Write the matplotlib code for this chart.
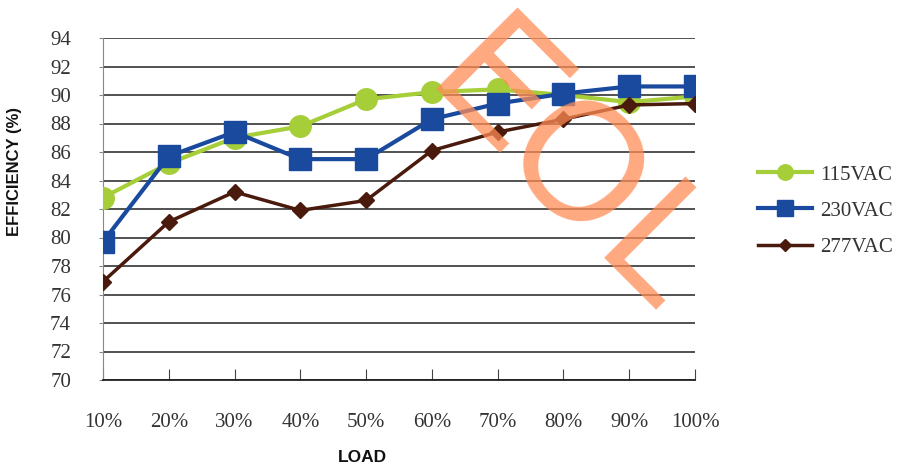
import matplotlib
matplotlib.use("Agg")
import matplotlib.pyplot as plt

loads = ["10%", "20%", "30%", "40%", "50%", "60%", "70%", "80%", "90%", "100%"]
eff_115 = [82.8, 85.2, 87.0, 87.8, 89.7, 90.2, 90.4, 90.0, 89.5, 89.9]
eff_230 = [79.7, 85.7, 87.4, 85.5, 85.5, 88.3, 89.4, 90.1, 90.6, 90.6]
eff_277 = [76.9, 81.1, 83.2, 81.9, 82.6, 86.1, 87.4, 88.3, 89.3, 89.4]
series_names = ["115VAC", "230VAC", "277VAC"]
y_ticks = list(range(70, 95, 2))
watermark = ["E", "O", "L"]

W, H = 904, 470
fig = plt.figure(figsize=(W / 100, H / 100), dpi=100)
ax = fig.add_axes([103 / W, 1 - 380 / H, (695 - 103) / W, (380 - 38) / H])

x = list(range(len(loads)))
ax.plot(x, eff_115, color="#A6CE39", lw=3, marker="o", ms=15.5, label=series_names[0], zorder=3)
ax.plot(x, eff_230, color="#1A4A9E", lw=3, marker="s", ms=16, label=series_names[1], zorder=4)
ax.plot(x, eff_277, color="#4A1A0C", lw=2.5, marker="D", ms=8, label=series_names[2], zorder=5)

ax.set_xlim(0, len(loads) - 1)
ax.set_ylim(70, 94)
ax.set_yticks(y_ticks)
ax.set_xticks(x)
ax.set_xticklabels(loads)
ax.grid(axis="y", color="#222222", lw=1.1, zorder=0)
ax.set_axisbelow(True)
for s in ["top", "right"]:
    ax.spines[s].set_visible(False)
ax.spines["left"].set_color("#888888")
ax.spines["bottom"].set_color("#222222")
ax.spines["bottom"].set_linewidth(1.3)

serif = ["Liberation Serif", "DejaVu Serif"]
ax.tick_params(axis="y", direction="out", length=3, color="#888888", pad=20,
               labelsize=15, labelcolor="#333333")
ax.tick_params(axis="x", direction="in", length=8, color="#444444", pad=24,
               labelsize=15, labelcolor="#333333")
for lab in ax.get_xticklabels() + ax.get_yticklabels():
    lab.set_fontfamily(serif)

fig.text(15 / W, 1 - 171 / H, "EFFICIENCY (%)", rotation=90, ha="center", va="center",
         fontsize=12, fontweight="bold", family="Liberation Sans", color="#111111")
fig.text(362 / W, 1 - 458 / H, "LOAD", ha="center", va="center",
         fontsize=12.5, fontweight="bold", family="Liberation Sans", color="#111111")

leg = fig.legend(loc="center left", bbox_to_anchor=(758 / W, 1 - 211 / H), frameon=False,
                 prop={"family": serif, "size": 15}, handlelength=2.6, labelspacing=0.8,
                 handletextpad=0.4, markerscale=0.72, borderaxespad=0, borderpad=0)
for t in leg.get_texts():
    t.set_color("#333333")

# EOL watermark, each letter rotated -45 degrees, placed at its baseline origin (pixels)
wm_origins = [(421, 88), (494, 161), (589, 257)]
for ch, (px, py) in zip(watermark, wm_origins):
    fig.text(px / W, 1 - py / H, ch, rotation=-45, ha="left", va="baseline",
             rotation_mode="anchor", fontsize=120, family="Liberation Sans",
             color="#FF8C55", alpha=0.75, zorder=10)

fig.savefig("out.png", dpi=100)
